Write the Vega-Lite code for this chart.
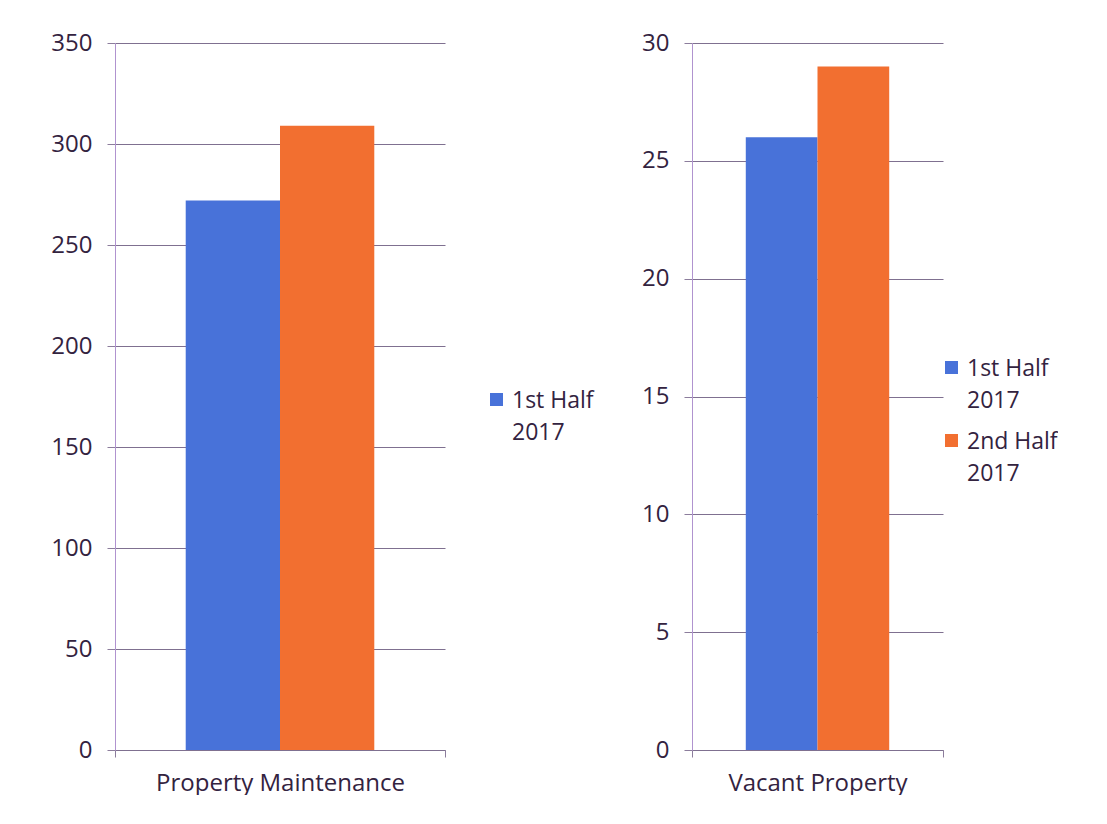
{
  "$schema": "https://vega.github.io/schema/vega-lite/v6.json",
  "background": "white",
  "padding": {"left": 47, "top": 31, "right": 0, "bottom": 0},
  "spacing": 46,
  "config": {
    "font": "Open Sans",
    "view": {"stroke": null},
    "axis": {
      "labelFont": "Open Sans",
      "labelFontSize": 24,
      "labelColor": "#33233f",
      "labelLimit": 400,
      "domainColor": "#b093cf",
      "tickColor": "#8c7d9c",
      "gridColor": "#7f7090",
      "domainWidth": 1,
      "tickWidth": 1,
      "gridWidth": 1
    },
    "legend": {
      "labelFont": "Open Sans",
      "labelFontSize": 23,
      "labelColor": "#33233f",
      "symbolType": "square",
      "symbolSize": 169,
      "symbolStrokeWidth": 0,
      "labelOffset": 4,
      "labelLimit": 300,
      "padding": 0,
      "rowPadding": 16
    }
  },
  "hconcat": [
    {
      "width": 330,
      "height": 707,
      "data": {"values": [
        {"category": "Property Maintenance", "period": "1st Half 2017", "value": 272},
        {"category": "Property Maintenance", "period": "2nd Half 2017", "value": 309}
      ]},
      "mark": {"type": "bar"},
      "encoding": {
        "x": {"field": "category", "type": "nominal",
          "scale": {"paddingInner": 0, "paddingOuter": 0},
          "axis": {"title": null, "labelAngle": 0, "labelLimit": 400, "tickBand": "extent", "tickSize": 7, "labelPadding": 14, "domainColor": "#7f7090"}},
        "xOffset": {"field": "period", "type": "nominal", "scale": {"paddingInner": 0, "paddingOuter": 0.75}},
        "y": {"field": "value", "type": "quantitative",
          "scale": {"domain": [0, 350]},
          "axis": {"title": null, "values": [0, 50, 100, 150, 200, 250, 300, 350], "grid": true, "tickSize": 8, "labelPadding": 15, "minExtent": 68, "maxExtent": 68}},
        "color": {"field": "period", "type": "nominal",
          "scale": {"domain": ["1st Half 2017", "2nd Half 2017"], "range": ["#4872d9", "#f26f30"]},
          "legend": {"title": null, "orient": "none", "legendX": 370, "legendY": 345, "values": ["1st Half 2017"],
            "labelExpr": "[slice(datum.label,0,8), slice(datum.label,9)]",
            "encode": {"labels": {"update": {"lineHeight": {"value": 32}, "baseline": {"value": "top"}, "dy": {"value": -10}}}}}}
      }
    },
    {
      "width": 251,
      "height": 707,
      "data": {"values": [
        {"category": "Vacant Property", "period": "1st Half 2017", "value": 26},
        {"category": "Vacant Property", "period": "2nd Half 2017", "value": 29}
      ]},
      "mark": {"type": "bar"},
      "encoding": {
        "x": {"field": "category", "type": "nominal",
          "scale": {"paddingInner": 0, "paddingOuter": 0},
          "axis": {"title": null, "labelAngle": 0, "labelLimit": 400, "tickBand": "extent", "tickSize": 7, "labelPadding": 14, "domainColor": "#7f7090"}},
        "xOffset": {"field": "period", "type": "nominal", "scale": {"paddingInner": 0, "paddingOuter": 0.75}},
        "y": {"field": "value", "type": "quantitative",
          "scale": {"domain": [0, 30]},
          "axis": {"title": null, "values": [0, 5, 10, 15, 20, 25, 30], "grid": true, "tickSize": 8, "labelPadding": 15, "minExtent": 52, "maxExtent": 52}},
        "color": {"field": "period", "type": "nominal",
          "scale": {"domain": ["1st Half 2017", "2nd Half 2017"], "range": ["#4872d9", "#f26f30"]},
          "legend": {"title": null, "orient": "none", "legendX": 248, "legendY": 313,
            "labelExpr": "[slice(datum.label,0,8), slice(datum.label,9)]",
            "encode": {"labels": {"update": {"lineHeight": {"value": 32}, "baseline": {"value": "top"}, "dy": {"value": -10}}}}}}
      }
    }
  ],
  "resolve": {
    "scale": {"x": "independent", "y": "independent", "color": "independent", "xOffset": "independent"},
    "legend": {"color": "independent"}
  }
}
